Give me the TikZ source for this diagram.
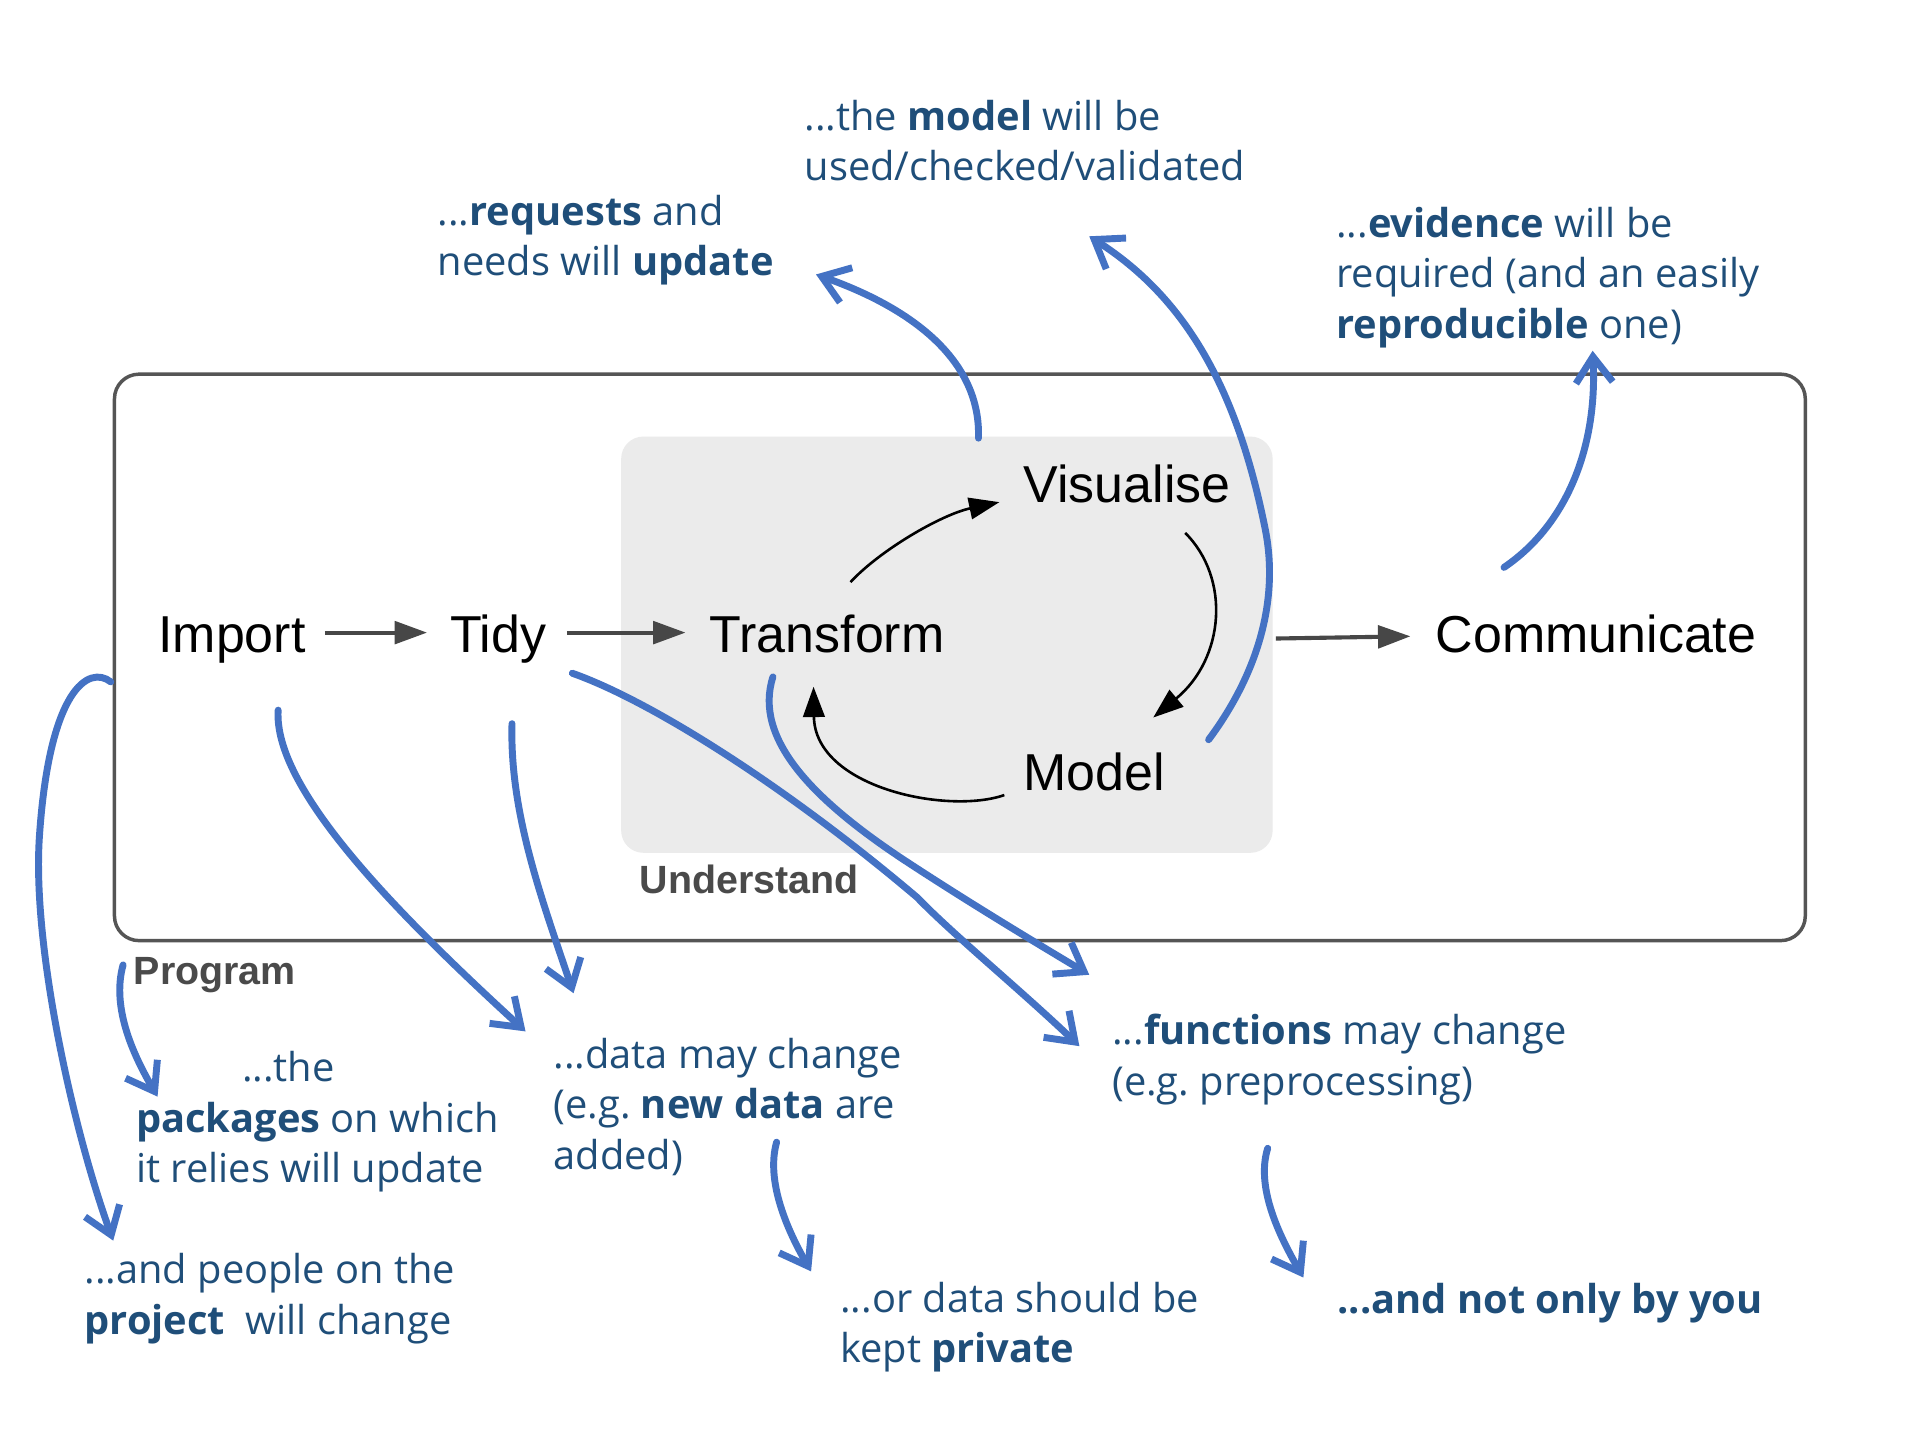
\documentclass[tikz,border=0pt]{standalone}
\usepackage{fontspec}
\setmainfont{Open Sans}
\newfontfamily\diafont{Liberation Sans}
\usetikzlibrary{arrows.meta,calc}
\definecolor{annot}{HTML}{1F4E79}
\definecolor{bluec}{HTML}{4472C4}
\definecolor{ugray}{HTML}{EBEBEB}
\definecolor{pgray}{HTML}{555555}
\definecolor{lgray}{HTML}{4A4A4A}
\begin{document}
\frenchspacing
\begin{tikzpicture}[x=0.01cm,y=-0.01cm,
  proc/.style={font=\diafont\fontsize{12}{14}\selectfont, inner sep=0, anchor=base west},
  grp/.style={font=\diafont\bfseries\fontsize{9.1}{11}\selectfont, text=lgray, inner sep=0, anchor=base west},
  note/.style={font=\frenchspacing\fontsize{9.2}{11.66}\selectfont, text=annot, inner sep=0, anchor=base west, align=left},
  blk/.style={line width=0.95pt, draw=black!72, -{Triangle[length=7.5pt,width=5.2pt]}},
  blkc/.style={line width=0.6pt, draw=black, -{Triangle[length=7pt,width=5pt]}},
  barrow/.style={line width=1.6pt, draw=bluec, line cap=round, -{Straight Barb[length=6pt,width=8.5pt]}},
]
\useasboundingbox (0,0) rectangle (1560,1170);
\fill[white] (0,0) rectangle (1560,1170);

% boxes
\node (prog) [draw=pgray, line width=0.8pt, rounded corners=0.2cm, minimum width=13.73cm, minimum height=4.6cm, inner sep=0, outer sep=0, anchor=north west] at (93,304) {};
\node (und) [fill=ugray, rounded corners=0.18cm, minimum width=5.29cm, minimum height=3.38cm, inner sep=0, anchor=north west] at (504,354) {};
\node[grp] (proglbl) at (108,800) {Program};
\node[grp] (undlbl) at (519,726) {Understand};

% process nodes
\node[proc] (imp) at (128,530) {Import};
\node[proc] (tidy) at (365,530) {Tidy};
\node[proc] (tr) at (576,530) {Transform};
\node[proc] (vis) at (831,408) {Visualise};
\node[proc] (mod) at (831,642) {Model};
\node[proc] (comm) at (1166,530) {Communicate};

% black connectors
\draw[blk] ($(imp.base east)+(15,-16)$) -- ($(tidy.base west)+(-18,-16)$);
\draw[blk] ($(tidy.base east)+(16,-16)$) -- ($(tr.base west)+(-19,-16)$);
\draw[blk] ($(und.east)+(2,-5)$) -- ($(comm.base west)+(-20,-13)$);
\draw[blkc] ($(tr.base west)+(115,-57)$) .. controls (715,447) and (765,418) .. ($(vis.base west)+(-19,0)$);
\draw[blkc] ($(vis.base west)+(132,25)$) .. controls (1000,470) and (995,535) .. ($(mod.base west)+(106,-59)$);
\draw[blkc] ($(mod.base west)+(-15,4)$) .. controls (770,662) and (662,640) .. ($(tr.base west)+(85,28)$);

% annotation texts (anchored at the baseline of their last line)
\node[note] (nmod) at (653,147) {...the \textbf{model} will be\\used/checked/validated};
\node[note] (nreq) at (355,224) {...\textbf{requests} and\\needs will \textbf{update}};
\node[note] (nevi) at (1085,275) {...\textbf{evidence} will be\\required (and an easily\\\textbf{reproducible} one)};
\node[note] (npkg) at (110,961) {\hspace*{0.86cm}...the\\\textbf{packages} on which\\it relies will update};
\node[note] (ndat) at (449,950) {...data may change\\(e.g. \textbf{new data} are\\added)};
\node[note] (nfun) at (903,890) {...\textbf{functions} may change\\(e.g. preprocessing)};
\node[note] (nppl) at (68,1084) {...and people on the\\\textbf{project}\ \ will change};
\node[note] (npriv) at (682,1107) {...or data should be\\kept \textbf{private}};
\node[note] (nonly) at (1086,1067) {\textbf{...and not only by you}};

% blue annotation arrows
\coordinate (b1s) at (795,356);  \coordinate (b1e) at (663,223);
\coordinate (b2s) at (982,601);  \coordinate (b2e) at (885,192);
\coordinate (b3s) at (1222,461); \coordinate (b3e) at (1294,285);
\coordinate (b4s) at (90,554);   \coordinate (b4e) at (92,1008);
\coordinate (b5s) at (100,784);  \coordinate (b5e) at (128,891);
\coordinate (b6s) at (226,577);  \coordinate (b6e) at (427,838);
\coordinate (b7s) at (416,588);  \coordinate (b7e) at (466,807);
\coordinate (b8s) at (465,547);  \coordinate (b8e) at (877,850);
\coordinate (b9s) at (628,550);  \coordinate (b9e) at (885,792);
\coordinate (b10s) at (631,928); \coordinate (b10e) at (659,1033);
\coordinate (b11s) at (1030,933); \coordinate (b11e) at (1059,1038);

\draw[barrow] (b1s) .. controls (797,295) and (745,252) .. (b1e);
\draw[barrow] (b2s) .. controls (1020,550) and (1040,490) .. (1028,430)
                    .. controls (1004,310) and (960,240) .. (b2e);
\draw[barrow] (b3s) .. controls (1275,425) and (1298,360) .. (b3e);
\draw[barrow] (b4s) .. controls (72,540) and (40,560) .. (32,680)
                    .. controls (26,770) and (60,920) .. (b4e);
\draw[barrow] (b5s) .. controls (90,820) and (110,860) .. (b5e);
\draw[barrow] (b6s) .. controls (222,640) and (320,740) .. (b6e);
\draw[barrow] (b7s) .. controls (414,660) and (440,730) .. (b7e);
\draw[barrow] (b8s) .. controls (530,570) and (640,640) .. (745,729)
                    .. controls (775,760) and (830,805) .. (b8e);
\draw[barrow] (b9s) .. controls (612,600) and (660,650) .. (738,701)
                    .. controls (790,735) and (840,765) .. (b9e);
\draw[barrow] (b10s) .. controls (622,960) and (640,1000) .. (b10e);
\draw[barrow] (b11s) .. controls (1020,965) and (1040,1005) .. (b11e);
\end{tikzpicture}
\end{document}
